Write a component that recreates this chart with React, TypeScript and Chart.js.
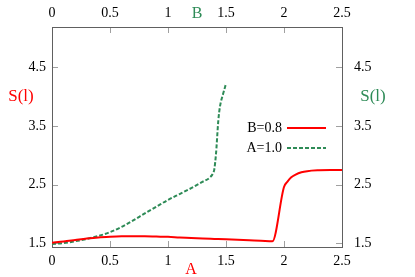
import React, { useEffect, useRef } from "react";
import { Chart, registerables } from "chart.js";

Chart.register(...registerables);

// Red series: S(l) versus A, at B = 0.8
const aValues = [0, 0.1, 0.2, 0.3, 0.4, 0.5, 0.6, 0.7, 0.8, 0.9, 1.0, 1.1, 1.2, 1.3, 1.4, 1.5, 1.6, 1.7, 1.8, 1.9, 2.0, 2.03, 2.06, 2.1, 2.15, 2.2, 2.3, 2.4, 2.5];
const redSeries = [1.51, 1.53, 1.555, 1.58, 1.60, 1.612, 1.62, 1.622, 1.62, 1.615, 1.61, 1.60, 1.592, 1.583, 1.575, 1.567, 1.56, 1.552, 1.545, 1.535, 2.46, 2.55, 2.62, 2.67, 2.71, 2.73, 2.745, 2.75, 2.75];

// Green series: S(l) versus B, at A = 1.0
const bValues = [0, 0.1, 0.2, 0.3, 0.4, 0.5, 0.6, 0.7, 0.8, 0.9, 1.0, 1.1, 1.2, 1.3, 1.36, 1.39, 1.40, 1.414, 1.434, 1.448, 1.477, 1.5];
const greenSeries = [1.49, 1.505, 1.535, 1.575, 1.625, 1.69, 1.78, 1.89, 2.01, 2.125, 2.24, 2.34, 2.44, 2.55, 2.62, 2.7, 2.77, 3.03, 3.6, 3.83, 4.06, 4.22];

const seriesLabels = ["B=0.8", "A=1.0"];
const xTicks = [0, 0.5, 1, 1.5, 2, 2.5];
const yTicks = [1.5, 2.5, 3.5, 4.5];
const yMin = 1.437;
const yMax = 5.187;

const FONT = "'Liberation Serif', 'DejaVu Serif', serif";
const RED = "#ff0000";
const GREEN = "#2e8b57";

const framePlugin = {
  id: "gnuplotFrame",
  beforeDatasetsDraw(chart: any) {
    const { ctx, chartArea: ca, scales } = chart;
    ctx.save();
    ctx.strokeStyle = "#a0a0a0";
    ctx.lineWidth = 1;
    const tl = 6;
    ctx.beginPath();
    for (const v of xTicks) {
      const px = Math.round(scales.x.getPixelForValue(v)) + 0.5;
      ctx.moveTo(px, ca.bottom);
      ctx.lineTo(px, ca.bottom - tl);
      const px2 = Math.round(scales.x2.getPixelForValue(v)) + 0.5;
      ctx.moveTo(px2, ca.top);
      ctx.lineTo(px2, ca.top + tl);
    }
    for (const v of yTicks) {
      const py = Math.round(scales.y.getPixelForValue(v)) + 0.5;
      ctx.moveTo(ca.left, py);
      ctx.lineTo(ca.left + tl, py);
      const py2 = Math.round(scales.y2.getPixelForValue(v)) + 0.5;
      ctx.moveTo(ca.right, py2);
      ctx.lineTo(ca.right - tl, py2);
    }
    ctx.stroke();
    ctx.strokeStyle = "#606060";
    ctx.lineWidth = 1;
    ctx.strokeRect(Math.round(ca.left) + 0.5, Math.round(ca.top) + 0.5, Math.round(ca.right - ca.left), Math.round(ca.bottom - ca.top));
    ctx.restore();
  },
  afterDraw(chart: any) {
    const { ctx, chartArea: ca } = chart;
    ctx.save();
    ctx.textBaseline = "middle";
    ctx.font = `16px ${FONT}`;
    ctx.textAlign = "center";
    ctx.fillStyle = GREEN;
    ctx.fillText("B", (ca.left + ca.right) / 2, 14);
    ctx.fillStyle = RED;
    ctx.fillText("A", (ca.left + ca.right) / 2 - 6, 270);
    ctx.font = `17px ${FONT}`;
    ctx.fillStyle = RED;
    ctx.fillText("S(l)", 21, 97);
    ctx.fillStyle = GREEN;
    ctx.fillText("S(l)", 373, 97);
    ctx.font = `14px ${FONT}`;
    chart.data.datasets.forEach((ds: any, i: number) => {
      const y = ca.top + 101 + i * 20;
      ctx.fillStyle = "#000";
      ctx.textAlign = "right";
      ctx.fillText(ds.label, ca.right - 60, y);
      ctx.strokeStyle = ds.borderColor;
      ctx.lineWidth = ds.borderWidth;
      ctx.setLineDash(ds.borderDash || []);
      ctx.beginPath();
      ctx.moveTo(ca.right - 55, y);
      ctx.lineTo(ca.right - 16, y);
      ctx.stroke();
      ctx.setLineDash([]);
    });
    ctx.restore();
  },
};

export default function App() {
  const ref = useRef<HTMLCanvasElement>(null);
  useEffect(() => {
    if (!ref.current) return;
    const tickFont = { family: FONT, size: 14 };
    const chart = new Chart(ref.current, {
      type: "line",
      data: {
        datasets: [
          {
            label: seriesLabels[0],
            data: aValues.map((a, i) => ({ x: a, y: redSeries[i] })),
            xAxisID: "x",
            yAxisID: "y",
            borderColor: RED,
            borderWidth: 2,
            pointRadius: 0,
            fill: false,
            cubicInterpolationMode: "monotone",
          },
          {
            label: seriesLabels[1],
            data: bValues.map((b, i) => ({ x: b, y: greenSeries[i] })),
            xAxisID: "x2",
            yAxisID: "y2",
            borderColor: GREEN,
            borderWidth: 2,
            borderDash: [4, 2],
            pointRadius: 0,
            fill: false,
            cubicInterpolationMode: "monotone",
          },
        ],
      },
      options: {
        animation: false,
        responsive: false,
        devicePixelRatio: 1,
        layout: { padding: 0 },
        plugins: { legend: { display: false }, tooltip: { enabled: false } },
        scales: {
          x: {
            type: "linear",
            position: "bottom",
            min: 0,
            max: 2.5,
            afterBuildTicks: (s: any) => { s.ticks = xTicks.map((v) => ({ value: v })); },
            afterFit: (s: any) => { s.height = 30; },
            grid: { display: false, drawTicks: false },
            border: { display: false },
            ticks: { color: "#000", font: tickFont, padding: 6, maxRotation: 0, autoSkip: false, callback: (v: any) => String(v) },
          },
          x2: {
            type: "linear",
            position: "top",
            min: 0,
            max: 2.5,
            afterBuildTicks: (s: any) => { s.ticks = xTicks.map((v) => ({ value: v })); },
            afterFit: (s: any) => { s.height = 27; },
            grid: { display: false, drawTicks: false },
            border: { display: false },
            ticks: { color: "#000", font: tickFont, padding: 5, maxRotation: 0, autoSkip: false, callback: (v: any) => String(v) },
          },
          y: {
            type: "linear",
            position: "left",
            min: yMin,
            max: yMax,
            afterBuildTicks: (s: any) => { s.ticks = yTicks.map((v) => ({ value: v })); },
            afterFit: (s: any) => { s.width = 52; },
            grid: { display: false, drawTicks: false },
            border: { display: false },
            ticks: { color: "#000", font: tickFont, padding: 6, autoSkip: false, callback: (v: any) => String(v) },
          },
          y2: {
            type: "linear",
            position: "right",
            min: yMin,
            max: yMax,
            afterBuildTicks: (s: any) => { s.ticks = yTicks.map((v) => ({ value: v })); },
            afterFit: (s: any) => { s.width = 73; },
            grid: { display: false, drawTicks: false },
            border: { display: false },
            ticks: { color: "#000", font: tickFont, padding: 12, autoSkip: false, callback: (v: any) => String(v) },
          },
        },
      },
      plugins: [framePlugin],
    } as any);
    return () => chart.destroy();
  }, []);
  return (
    <div style={{ position: "absolute", left: 0, top: 0, width: 415, height: 277, background: "#fff" }}>
      <canvas ref={ref} width={415} height={277} style={{ display: "block", width: 415, height: 277 }} />
    </div>
  );
}
